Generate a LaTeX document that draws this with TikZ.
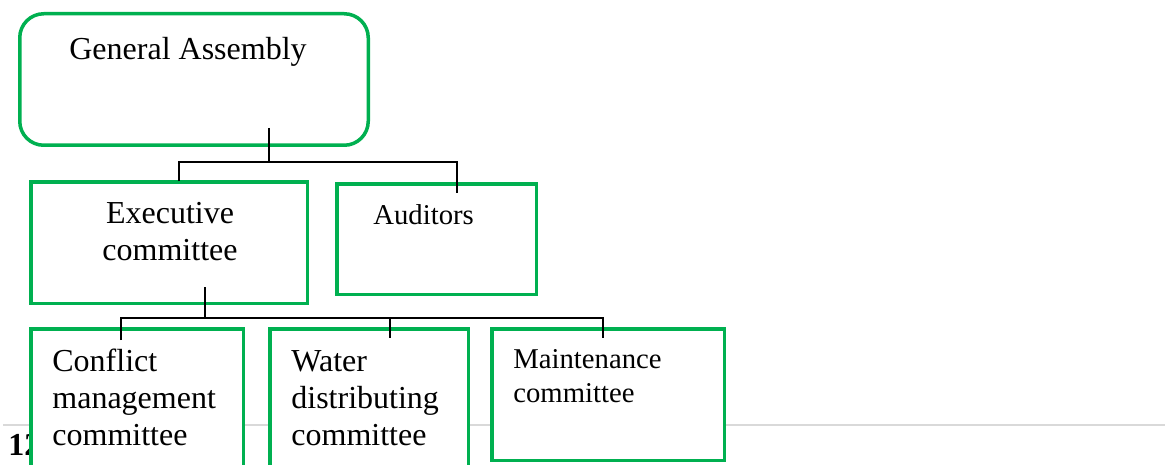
\documentclass[tikz,border=0pt]{standalone}
\usepackage{fontspec}
\setmainfont{Liberation Serif}
\usepackage{tikz}
\usetikzlibrary{calc,positioning}

\definecolor{orggreen}{HTML}{00B050}
\definecolor{rulegray}{HTML}{D9D9D9}

\begin{document}
\begin{tikzpicture}[x=0.5pt, y=-0.5pt,
    orgbox/.style={draw=orggreen, line width=1.75pt, fill=white, inner sep=0pt},
    tie/.style={draw=black, line width=0.75pt},
    bigtext/.style={font=\fontsize{16}{18.5}\selectfont, inner sep=0pt, align=left},
    smalltext/.style={font=\fontsize{14.35}{17}\selectfont, inner sep=0pt, align=left}]
  \clip (0,0) rectangle (1167,465);
  \useasboundingbox (0,0) rectangle (1167,465);
  % --- page rule and heading behind the boxes ---
  \coordinate (ruleL) at (3,425);
  \coordinate (ruleR) at (1165,425);
  \draw[rulegray, line width=1pt] (ruleL) -- (ruleR);
  \node[anchor=base west, inner sep=0pt, font=\fontsize{16}{18}\selectfont\bfseries] (head) at (8,455) {12};
  % --- boxes ---
  \node[orgbox, rounded corners=12pt, minimum width=174.25pt, minimum height=65.75pt] (ga) at (194,79.5) {};
  \node[orgbox, minimum width=138.25pt, minimum height=60.75pt] (exec) at (169,242.5) {};
  \node[orgbox, minimum width=99.75pt, minimum height=55.25pt] (aud) at (436.5,239) {};
  \node[orgbox, minimum width=106.25pt, minimum height=74.75pt] (conf) at (137,403.5) {};
  \node[orgbox, minimum width=99.25pt, minimum height=74.75pt] (water) at (369,403.5) {};
  \node[orgbox, minimum width=116.25pt, minimum height=65.75pt] (maint) at (608,394.5) {};
  % --- labels (base = last line) ---
  \node[bigtext, anchor=base] (galbl) at (188,60) {General Assembly};
  \node[bigtext, anchor=base, align=center] (execlbl) at (170,260) {Executive\\committee};
  \node[smalltext, anchor=base west] (audlbl) at (373,224) {Auditors};
  \node[bigtext, anchor=base west] (conflbl) at (52,445) {Conflict\\management\\committee};
  \node[bigtext, anchor=base west] (waterlbl) at (291,445) {Water\\distributing\\committee};
  \node[smalltext, anchor=base west] (maintlbl) at (513,402) {Maintenance\\committee};
  % --- connectors ---
  \coordinate (gaout) at (269,128);
  \coordinate (gabus) at (269,162);
  \coordinate (execin) at (179,181);
  \coordinate (audin) at (457,193);
  \draw[tie] (gaout) -- (gabus);
  \draw[tie] (execin) -- (execin |- gabus) -- (audin |- gabus) -- (audin);
  \coordinate (execout) at (205,287);
  \coordinate (execbus) at (205,318);
  \coordinate (confin) at (121,340);
  \coordinate (waterin) at (390,338);
  \coordinate (maintin) at (603,338);
  \draw[tie] (execout) -- (execbus);
  \draw[tie] (confin) -- (confin |- execbus) -- (maintin |- execbus) -- (maintin);
  \draw[tie] (waterin |- execbus) -- (waterin);
\end{tikzpicture}
\end{document}
